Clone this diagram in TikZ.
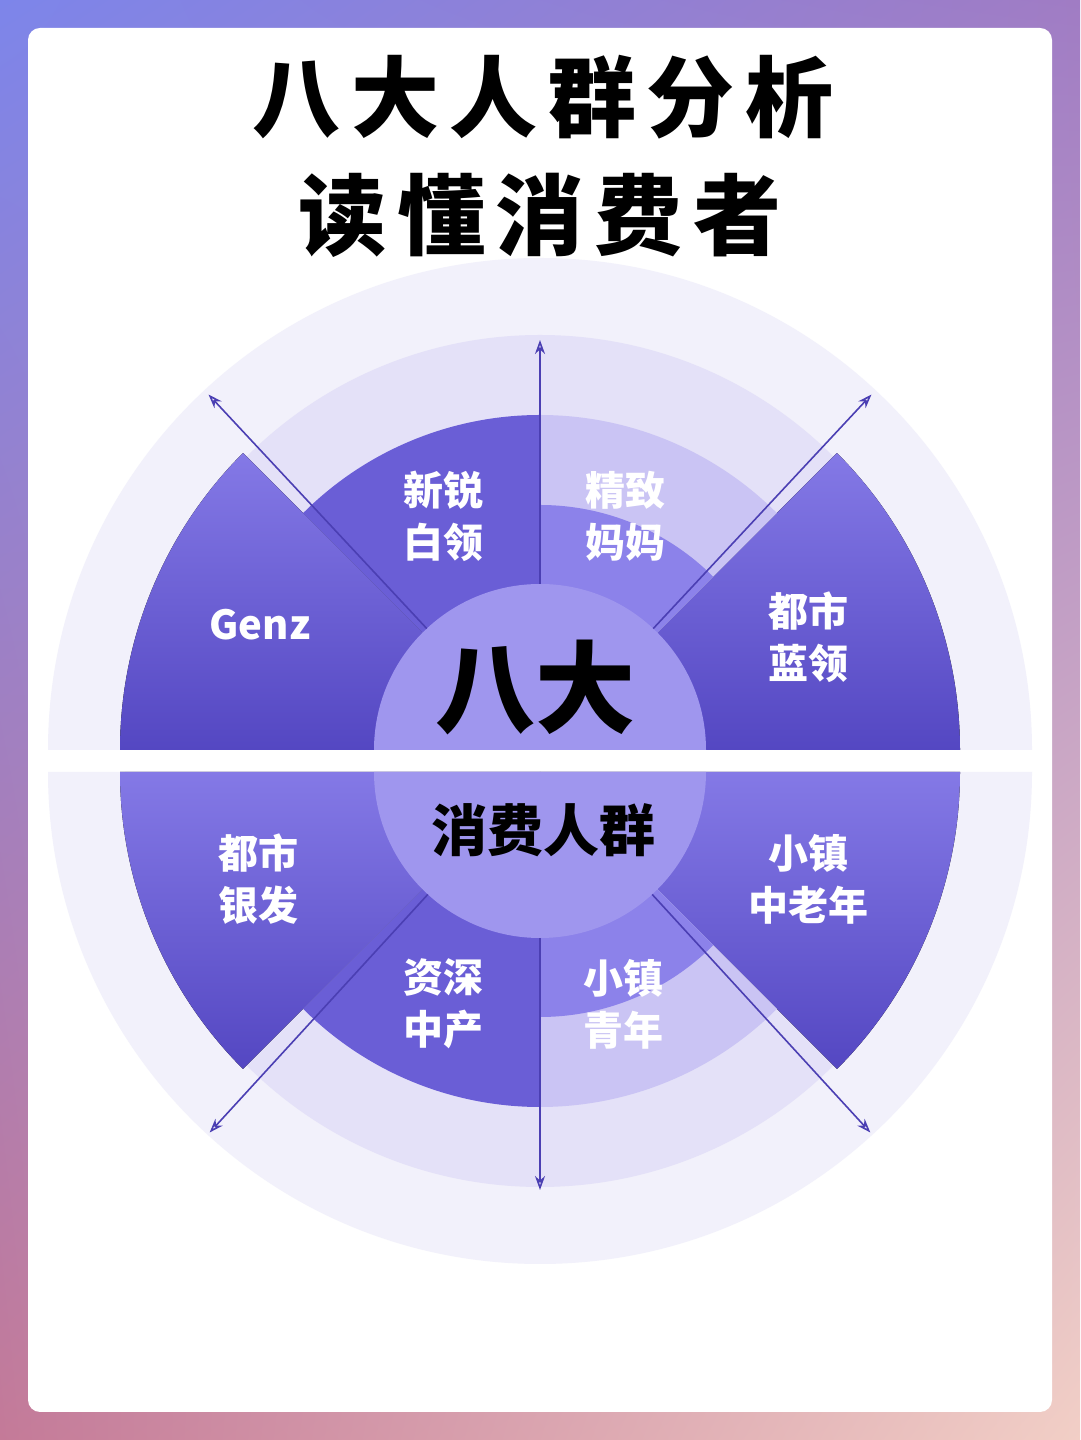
\documentclass[tikz,border=0pt]{standalone}
\usepackage{fontspec}
\newfontfamily\cjk{Noto Sans CJK SC}
\usetikzlibrary{arrows.meta,shadings}
\definecolor{ringA}{HTML}{F2F1FB}
\definecolor{ringB}{HTML}{E4E1F8}
\definecolor{darkA}{HTML}{8479E6}
\definecolor{darkB}{HTML}{5447C2}
\definecolor{midA}{HTML}{8C82EA}
\definecolor{midB}{HTML}{6A5ED6}
\definecolor{lightS}{HTML}{CAC4F4}
\definecolor{coreC}{HTML}{9F96EE}
\definecolor{lineC}{HTML}{4B3FB3}
\definecolor{bgUL}{HTML}{7D85EA}
\definecolor{bgUR}{HTML}{A07CC4}
\definecolor{bgLL}{HTML}{C47A98}
\definecolor{bgLR}{HTML}{F2CFC6}
\tikzset{
  lbl/.style={font=\cjk\bfseries\fontsize{40}{52}\selectfont, text=white, align=center},
  ttl/.style={font=\cjk\bfseries\fontsize{88}{100}\selectfont, text=black},
  arr/.style={draw=lineC, line width=1.6pt, -{Stealth[length=14pt,width=10pt,open]}},
  darksec/.style={shading=axis, top color=darkA, bottom color=darkB, shading angle=0},
}
\begin{document}
\begin{tikzpicture}[x=1pt,y=1pt]
\useasboundingbox (0,0) rectangle (1080,1440);
\shade[upper left=bgUL, upper right=bgUR, lower left=bgLL, lower right=bgLR]
  (0,0) rectangle (1080,1440);
\fill[white, rounded corners=12pt] (28,28) rectangle (1052,1412);
% titles
\node[ttl] (t1) at (543,1343) {八\hspace{0.12em}大\hspace{0.12em}人\hspace{0.12em}群\hspace{0.12em}分\hspace{0.12em}析};
\node[ttl] (t2) at (540,1225) {读\hspace{0.12em}懂\hspace{0.12em}消\hspace{0.12em}费\hspace{0.12em}者};
% top half (center 540,690)
\begin{scope}[shift={(540,690)}]
  \fill[ringA] (-492,0) arc (180:0:492) -- cycle;
  \fill[ringB] (-415,0) arc (180:0:415) -- cycle;
  \fill[darksec] (0,0) -- (180:420) arc (180:135:420) -- cycle;
  \fill[darksec] (0,0) -- (45:420) arc (45:0:420) -- cycle;
  \fill[midB] (0,0) -- (135:335) arc (135:90:335) -- cycle;
  \fill[lightS] (0,0) -- (90:335) arc (90:45:335) -- cycle;
  \fill[midA] (0,0) -- (90:245) arc (90:45:245) -- cycle;
  \fill[coreC] (-166,0) arc (180:0:166) -- cycle;
  \coordinate (u0) at (90:166); \coordinate (u1) at (90:410);
  \coordinate (l0) at (133:166); \coordinate (l1) at (133:486);
  \coordinate (r0) at (47:166); \coordinate (r1) at (47:486);
\end{scope}
% bottom half (center 540,668)
\begin{scope}[shift={(540,668)}]
  \fill[ringA] (-492,0) arc (180:360:492) -- cycle;
  \fill[ringB] (-415,0) arc (180:360:415) -- cycle;
  \fill[darksec] (0,0) -- (180:420) arc (180:225:420) -- cycle;
  \fill[darksec] (0,0) -- (315:420) arc (315:360:420) -- cycle;
  \fill[midB] (0,0) -- (225:335) arc (225:270:335) -- cycle;
  \fill[lightS] (0,0) -- (270:335) arc (270:315:335) -- cycle;
  \fill[midA] (0,0) -- (270:245) arc (270:315:245) -- cycle;
  \fill[coreC] (-166,0) arc (180:360:166) -- cycle;
  \coordinate (d0) at (270:166); \coordinate (d1) at (270:418);
  \coordinate (bl0) at (227.5:166); \coordinate (bl1) at (227.5:489);
  \coordinate (br0) at (312.5:166); \coordinate (br1) at (312.5:489);
\end{scope}
\draw[arr] (u0) -- (u1);
\draw[arr] (l0) -- (l1);
\draw[arr] (r0) -- (r1);
\draw[arr] (d0) -- (d1);
\draw[arr] (bl0) -- (bl1);
\draw[arr] (br0) -- (br1);
% labels
\node[font=\cjk\bfseries\fontsize{100}{110}\selectfont] (c1) at (535,752) {八大};
\node[font=\cjk\bfseries\fontsize{56}{64}\selectfont] (c2) at (543,610) {消费人群};
\node[lbl] (a) at (443,924) {新锐\\白领};
\node[lbl] (b) at (625,924) {精致\\妈妈};
\node[lbl] (g) at (260,815) {Genz};
\node[lbl] (c) at (808,803) {都市\\蓝领};
\node[lbl] (d) at (258,561) {都市\\银发};
\node[lbl] (e) at (443,436) {资深\\中产};
\node[lbl] (f) at (623,436) {小镇\\青年};
\node[lbl] (h) at (808,561) {小镇\\中老年};
\end{tikzpicture}
\end{document}
